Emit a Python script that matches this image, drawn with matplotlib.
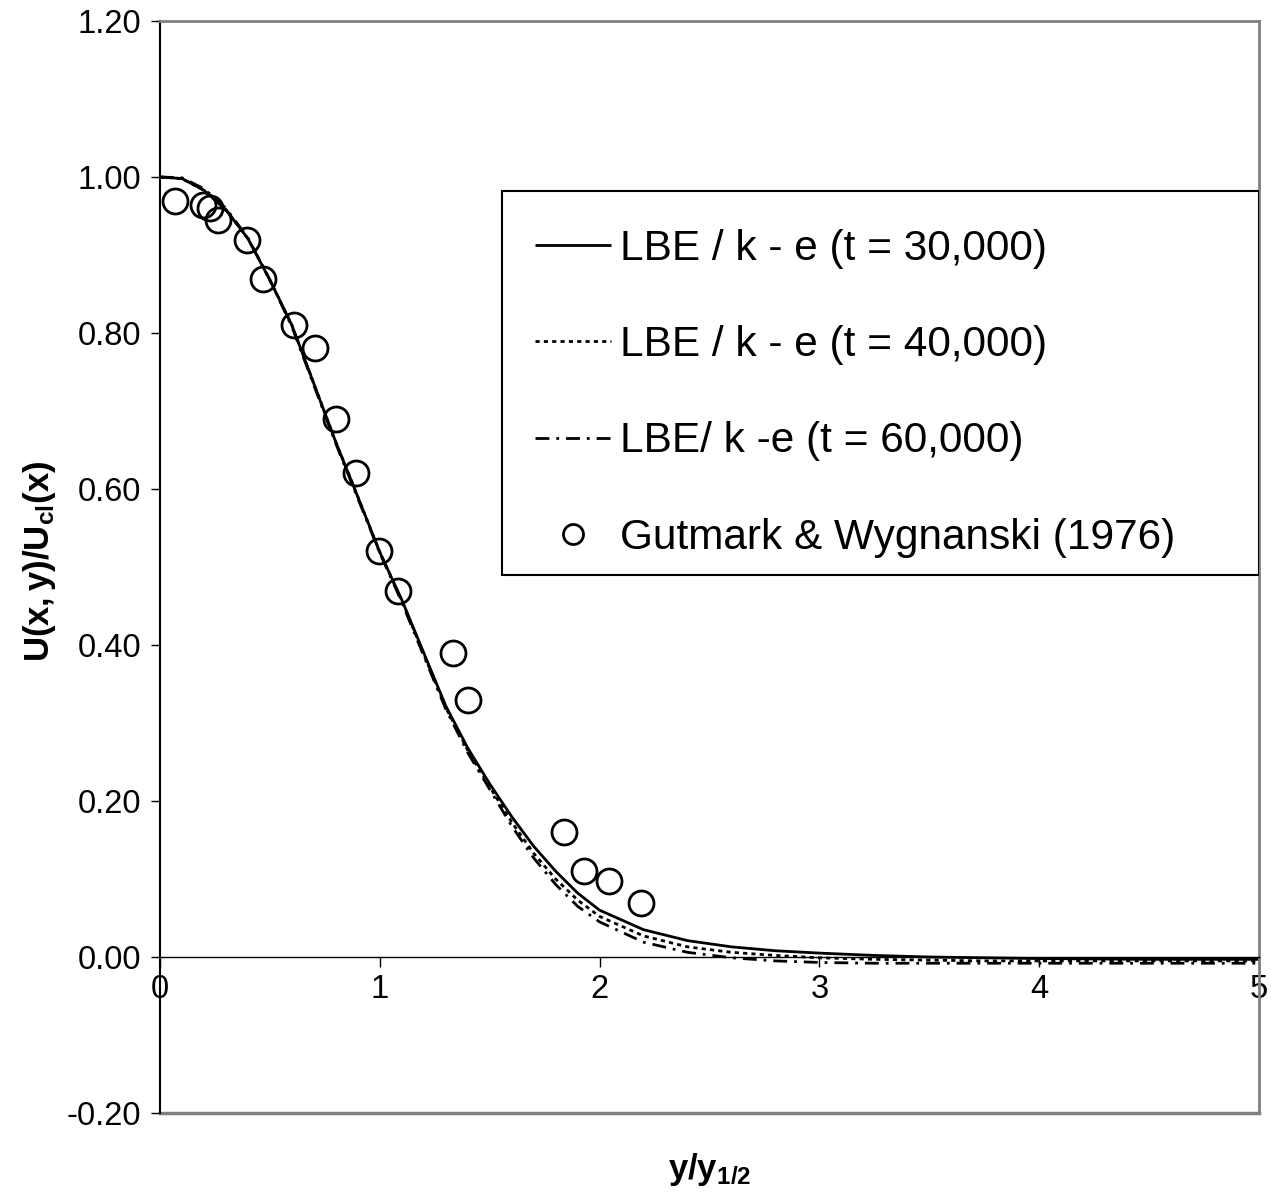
import matplotlib
matplotlib.use("Agg")
import matplotlib.pyplot as plt
from matplotlib.patches import Rectangle

plt.rcParams['font.family'] = ['Liberation Sans', 'DejaVu Sans']
plt.rcParams['mathtext.fontset'] = 'custom'
plt.rcParams['mathtext.rm'] = 'Liberation Sans'
plt.rcParams['mathtext.bf'] = 'Liberation Sans:bold'
plt.rcParams['mathtext.it'] = 'Liberation Sans:italic'

# Simulated velocity profiles (LBE / k-e) at three time steps
y_sim = [0.0, 0.1, 0.2, 0.3, 0.4, 0.5, 0.6, 0.7, 0.8, 0.9, 1.0, 1.1, 1.2, 1.3,
         1.4, 1.5, 1.6, 1.7, 1.8, 1.9, 2.0, 2.2, 2.4, 2.6, 2.8, 3.0, 3.25, 3.5,
         3.75, 4.0, 4.5, 5.0]
u_t30k = [1.000, 0.998, 0.983, 0.958, 0.921, 0.868, 0.810, 0.735, 0.660, 0.590,
          0.519, 0.458, 0.390, 0.322, 0.268, 0.222, 0.180, 0.142, 0.110, 0.082,
          0.060, 0.035, 0.021, 0.013, 0.008, 0.005, 0.002, 0.000, -0.001,
          -0.002, -0.003, -0.003]
u_t40k = [1.000, 0.998, 0.983, 0.958, 0.921, 0.868, 0.810, 0.735, 0.660, 0.590,
          0.519, 0.457, 0.388, 0.320, 0.265, 0.218, 0.173, 0.133, 0.100, 0.073,
          0.052, 0.027, 0.013, 0.006, 0.002, -0.001, -0.003, -0.004, -0.005,
          -0.005, -0.005, -0.005]
u_t60k = [1.000, 0.999, 0.985, 0.960, 0.922, 0.868, 0.808, 0.733, 0.658, 0.588,
          0.518, 0.455, 0.386, 0.318, 0.262, 0.215, 0.168, 0.127, 0.093, 0.065,
          0.045, 0.019, 0.006, -0.001, -0.005, -0.007, -0.008, -0.008, -0.008,
          -0.008, -0.008, -0.008]

# Experimental data, Gutmark & Wygnanski (1976)
y_exp = [0.068, 0.195, 0.227, 0.264, 0.395, 0.468, 0.609, 0.705, 0.800, 0.891,
         0.995, 1.082, 1.332, 1.400, 1.840, 1.930, 2.045, 2.190]
u_exp = [0.969, 0.964, 0.960, 0.945, 0.919, 0.869, 0.810, 0.781, 0.690, 0.620,
         0.520, 0.469, 0.390, 0.330, 0.160, 0.110, 0.097, 0.069]

labels = ['LBE / k - e (t = 30,000)', 'LBE / k - e (t = 40,000)',
          'LBE/ k -e (t = 60,000)', 'Gutmark & Wygnanski (1976)']

fig = plt.figure(figsize=(12.71, 11.96), dpi=100)
ax = fig.add_axes([160 / 1271, 83 / 1196, 1099 / 1271, 1092 / 1196])

ax.plot(y_sim, u_t30k, color='black', lw=2.0, solid_capstyle='butt', label=labels[0])
ax.plot(y_sim, u_t40k, color='black', lw=2.0, dashes=(1.5, 1.5), label=labels[1])
ax.plot(y_sim, u_t60k, color='black', lw=2.0, dashes=(5, 2.5, 1, 2.5), label=labels[2])
ax.plot(y_exp, u_exp, linestyle='none', marker='o', markersize=18,
        markerfacecolor='none', markeredgecolor='black', markeredgewidth=2.0,
        label=labels[3])

ax.set_xlim(0, 5)
ax.set_ylim(-0.2, 1.2)
ax.set_xticks([0, 1, 2, 3, 4, 5])
ax.set_xticklabels(['0', '1', '2', '3', '4', '5'])
ax.set_yticks([-0.2, 0.0, 0.2, 0.4, 0.6, 0.8, 1.0, 1.2])
ax.set_yticklabels(['-0.20', '0.00', '0.20', '0.40', '0.60', '0.80', '1.00', '1.20'])

# x axis drawn through y = 0, plot-area frame in grey
ax.spines['bottom'].set_position(('data', 0.0))
ax.spines['bottom'].set_color('black')
ax.spines['bottom'].set_linewidth(1.0)
ax.spines['left'].set_color('black')
ax.spines['left'].set_linewidth(1.5)
for side in ('top', 'right'):
    ax.spines[side].set_color('#808080')
    ax.spines[side].set_linewidth(2.0)
ax.axhline(-0.2, color='#808080', lw=2.5, clip_on=False, zorder=0.5)

ax.tick_params(axis='x', direction='out', length=7, width=1.0, pad=5, labelsize=23.5)
ax.tick_params(axis='y', direction='out', length=6.5, width=1.0, pad=7, labelsize=23.5)

ax.set_ylabel(r'$\mathbf{U(x,y)/U_{cl}(x)}$', fontsize=25)
ax.yaxis.set_label_coords(-120 / 1099, 0.5 + 6 / 1092)
ax.yaxis.label.set_va('center')
ax.set_xlabel(r'$\mathbf{y/y_{1/2}}$', fontsize=25)
ax.xaxis.label.set_va('center')
ax.xaxis.set_label_coords(0.5, -57 / 1092)

# Legend box (white panel with black border) and its entries
legend_box = (0.311, 0.4927, 0.689, 0.352)
ax.add_patch(Rectangle(legend_box[:2], legend_box[2], legend_box[3],
                       transform=ax.transAxes, facecolor='white',
                       edgecolor='black', lw=1.5, zorder=4))
leg = ax.legend(loc='upper left',
                bbox_to_anchor=(legend_box[0] - 5 / 1099, legend_box[1],
                                legend_box[2], legend_box[3]),
                fontsize=30.5, frameon=False, borderpad=0.9,
                labelspacing=1.33, handlelength=1.8, handletextpad=0.22,
                borderaxespad=0.0, numpoints=1, markerscale=0.8)
leg.set_zorder(5)

fig.savefig('out.png', dpi=100)
